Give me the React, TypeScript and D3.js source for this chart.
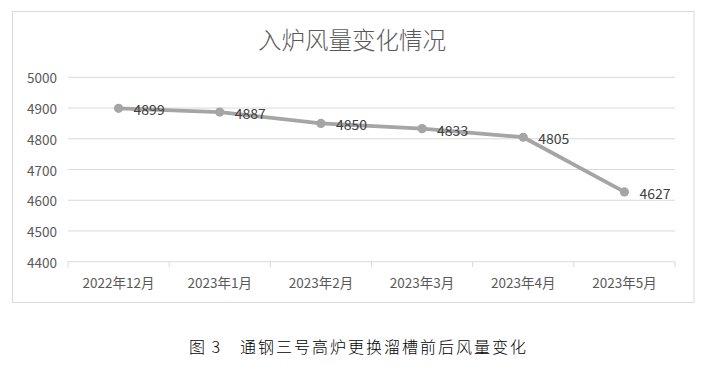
import React from "react";
import * as d3 from "d3";

const categories = ["2022年12月", "2023年1月", "2023年2月", "2023年3月", "2023年4月", "2023年5月"];
const values = [4899, 4887, 4850, 4833, 4805, 4627];
const yTicks = [4400, 4500, 4600, 4700, 4800, 4900, 5000];
const title = "入炉风量变化情况";
const captionFig = "图";
const captionNum = "3";
const captionText = "通钢三号高炉更换溜槽前后风量变化";

const FONT = "'Noto Sans CJK SC', 'Noto Sans', sans-serif";

export default function App() {
  const W = 708, H = 372;
  const left = 68, right = 675, top = 77.3, bottom = 261.7;
  const x = d3.scaleBand<string>().domain(categories).range([left, right]);
  const y = d3.scaleLinear().domain([4400, 5000]).range([bottom, top]);
  const cx = (c: string) => (x(c) as number) + x.bandwidth() / 2;
  const line = d3.line<number>().x((_, i) => cx(categories[i])).y((d) => y(d));
  const tickXs = [...categories.map((c) => x(c) as number), right];

  return (
    <svg width={W} height={H} style={{ position: "absolute", left: 0, top: 0, background: "#fff" }} fontFamily={FONT}>
      <rect x={12.5} y={11.5} width={681.5} height={291} fill="#fff" stroke="#d9d9d9" strokeWidth={1} />
      <text x={352} y={39} textAnchor="middle" dominantBaseline="central" fontSize={23.5} fontWeight={300} fill="#595959">{title}</text>
      {yTicks.map((t) => (
        <g key={t}>
          {t !== 4400 && <line x1={left} x2={right} y1={y(t)} y2={y(t)} stroke="#d9d9d9" strokeWidth={1} />}
          <text x={57} y={y(t)} textAnchor="end" dominantBaseline="central" fontSize={13.5} fill="#595959">{t}</text>
        </g>
      ))}
      <line x1={left} x2={right} y1={bottom} y2={bottom} stroke="#d9d9d9" strokeWidth={1} />
      {tickXs.map((tx, i) => (
        <line key={i} x1={tx} x2={tx} y1={bottom} y2={bottom + 5.5} stroke="#d9d9d9" strokeWidth={1} />
      ))}
      {categories.map((c) => (
        <text key={c} x={cx(c)} y={281.5} textAnchor="middle" dominantBaseline="central" fontSize={13.5} fill="#595959">{c}</text>
      ))}
      <path d={line(values) || ""} fill="none" stroke="#a5a5a5" strokeWidth={3.8} strokeLinejoin="round" />
      {values.map((v, i) => (
        <circle key={i} cx={cx(categories[i])} cy={y(v)} r={4.6} fill="#a5a5a5" />
      ))}
      {values.map((v, i) => (
        <text key={"l" + i} x={cx(categories[i]) + 15} y={y(v) + 1} dominantBaseline="central" fontSize={14} fill="#404040">{v}</text>
      ))}
      <g fontSize={16} fontWeight={300} fill="#000">
        <text x={189} y={346} dominantBaseline="central">{captionFig}</text>
        <text x={211.5} y={346} dominantBaseline="central">{captionNum}</text>
        <text x={240} y={346} dominantBaseline="central" letterSpacing={2}>{captionText}</text>
      </g>
    </svg>
  );
}
